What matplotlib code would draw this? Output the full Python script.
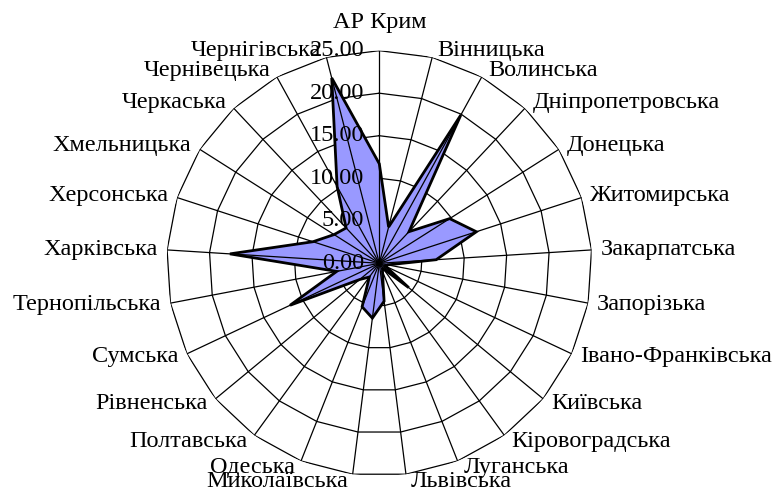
import numpy as np
import matplotlib
matplotlib.use("Agg")
import matplotlib.pyplot as plt

plt.rcParams['font.family'] = ['Liberation Serif', 'DejaVu Serif']

# regions, clockwise from the top
regions = ["АР Крим", "Вінницька", "Волинська", "Дніпропетровська", "Донецька",
           "Житомирська", "Закарпатська", "Запорізька", "Івано-Франківська",
           "Київська", "Кіровоградська", "Луганська", "Львівська", "Миколаївська",
           "Одеська", "Полтавська", "Рівненська", "Сумська", "Тернопільська",
           "Харківська", "Херсонська", "Хмельницька", "Черкаська", "Чернівецька",
           "Чернігівська"]
values = [11.7, 4.4, 19.9, 5.1, 9.8, 12.0, 6.7, 1.0, 0.8, 4.5, 0.8, 1.0, 4.5,
          6.5, 5.5, 2.0, 3.0, 11.6, 5.1, 17.6, 8.2, 6.3, 5.7, 10.3, 22.5]
ring_ticks = [0, 5, 10, 15, 20, 25]

n = len(regions)
theta = np.arange(n) * 2 * np.pi / n
theta_c = np.append(theta, theta[0])
vals_c = np.append(values, values[0])

fig = plt.figure(figsize=(7.76, 4.90), dpi=100)
ax = fig.add_axes([0.2148, 0.0288, 0.548, 0.8678], projection='polar')
ax.set_theta_zero_location('N')
ax.set_theta_direction(-1)
ax.set_ylim(0, 25)
ax.grid(False)
ax.spines['polar'].set_visible(False)
ax.set_xticks([])
ax.set_yticks([])

# polygon rings
for r in ring_ticks[1:]:
    ax.plot(theta_c, [r] * (n + 1), color='black', lw=0.9, zorder=1)

# data area
ax.fill(theta_c, vals_c, facecolor='#9999FF', edgecolor='black', lw=2, zorder=2)

# spokes
for t in theta:
    ax.plot([t, t], [0, 25], color='black', lw=0.9, zorder=3)

# value labels
for r in ring_ticks:
    ax.annotate(f"{r:.2f}", xy=(0, r), xytext=(-15, 0), textcoords='offset pixels',
                ha='right', va='center', fontsize=17.5, zorder=4)

# category labels
for name, t in zip(regions, theta):
    s, c = np.sin(t), np.cos(t)
    if abs(s) < 1e-6:
        ax.annotate(name, xy=(t, 25), xytext=(0, 28), textcoords='offset pixels',
                    ha='center', va='center', fontsize=17.5)
        continue
    dx = 4 + 5 * abs(s)
    ha = 'left' if s > 0 else 'right'
    ax.annotate(name, xy=(t, 25), xytext=(dx if s > 0 else -dx, 7.5 * c),
                textcoords='offset pixels', ha=ha, va='center', fontsize=17.5)

fig.savefig('out.png', dpi=100)
